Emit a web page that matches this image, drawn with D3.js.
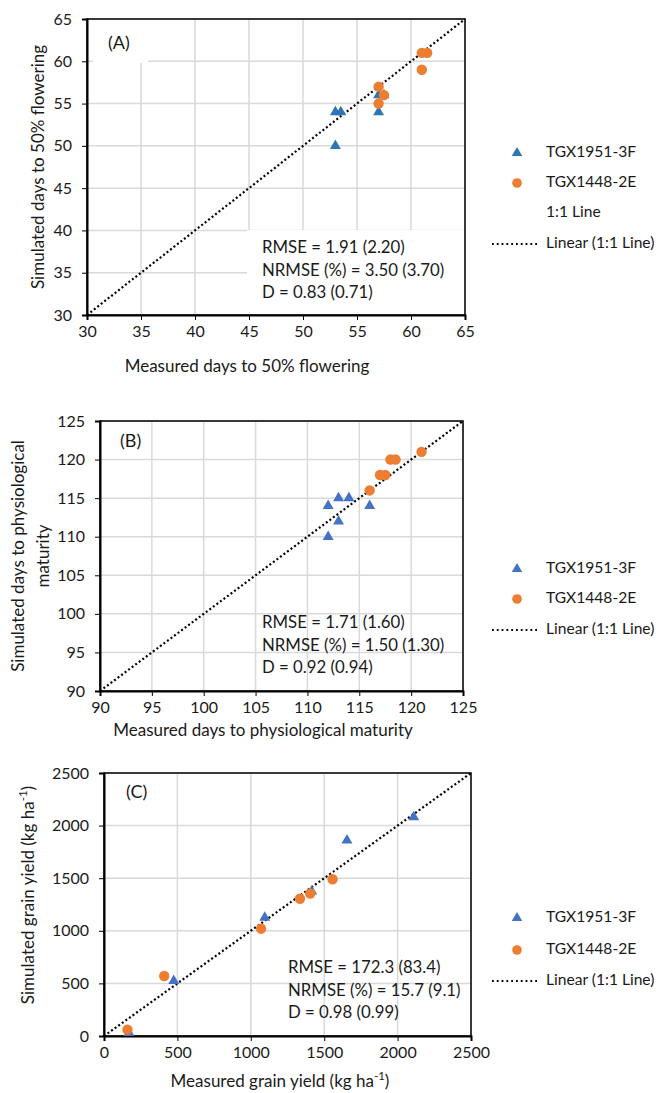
<!DOCTYPE html>
<html>
<head>
<meta charset="UTF-8" />
<title>Measured vs simulated</title>
<script src="https://d3js.org/d3.v7.min.js"></script>
<style>
  body { margin: 0; background: #fff; }
  text { font-family: Lato, "Open Sans", sans-serif; fill: #1a1a1a; }
</style>
</head>
<body>
<script type="text/javascript">

// panel A - days to 50% flowering
var flowerTGX1951 = [[53,54],[53.5,54],[53,50],[57,54],[57,56],[57.5,56]];
var flowerTGX1448 = [[57,57],[57.5,56],[57,55],[61,61],[61.5,61],[61,59]];
var flowerTicks = [30,35,40,45,50,55,60,65];
var flowerStats = ["RMSE = 1.91 (2.20)", "NRMSE (%) = 3.50 (3.70)", "D = 0.83 (0.71)"];

// panel B - days to physiological maturity
var maturTGX1951 = [[112,114],[113,115],[114,115],[113,112],[112,110],[116,114]];
var maturTGX1448 = [[116,116],[117,118],[117.5,118],[118,120],[118.5,120],[121,121]];
var maturTicks = [90,95,100,105,110,115,120,125];
var maturStats = ["RMSE = 1.71 (1.60)", "NRMSE (%) = 1.50 (1.30)", "D = 0.92 (0.94)"];

// panel C - grain yield
var yieldTGX1951 = [[2110,2080],[1655,1860],[1095,1125],[475,525],[1415,1375],[170,30]];
var yieldTGX1448 = [[410,570],[160,60],[1070,1020],[1335,1305],[1405,1355],[1557,1490]];
var yieldTicks = [0,500,1000,1500,2000,2500];
var yieldStats = ["RMSE = 172.3 (83.4)", "NRMSE (%) = 15.7 (9.1)", "D = 0.98 (0.99)"];

var width = 656, height = 1093;

var svg = d3.select("body").append("svg")
    .attr("width", width)
    .attr("height", height);

var blueA = "#2E75B6", blue = "#4472C4", orange = "#ED7D31";

function drawPanel(p) {
  var g = svg.append("g");
  var x = d3.scaleLinear().domain(d3.extent(p.ticks)).range([p.x0, p.x1]);
  var y = d3.scaleLinear().domain(d3.extent(p.ticks)).range([p.y1, p.y0]);

  // grid
  g.selectAll(".gx").data(p.ticks).enter().append("line")
    .attr("x1", d => x(d)).attr("x2", d => x(d))
    .attr("y1", p.y0).attr("y2", p.y1)
    .attr("stroke", "#d9d9d9").attr("stroke-width", 1.5);
  g.selectAll(".gy").data(p.ticks).enter().append("line")
    .attr("y1", d => y(d)).attr("y2", d => y(d))
    .attr("x1", p.x0).attr("x2", p.x1)
    .attr("stroke", "#d9d9d9").attr("stroke-width", 1.5);

  // white boxes behind text (only panel A has them)
  (p.boxes || []).forEach(function(b) {
    g.append("rect").attr("x", b[0]).attr("y", b[1]).attr("width", b[2]).attr("height", b[3]).attr("fill", "#fff");
  });

  // frame
  g.append("rect").attr("x", p.x0).attr("y", p.y0)
    .attr("width", p.x1 - p.x0).attr("height", p.y1 - p.y0)
    .attr("fill", "none").attr("stroke", "#000").attr("stroke-width", 1.5);

  // axes
  var xa = g.append("g").attr("transform", "translate(0," + p.y1 + ")")
    .call(d3.axisBottom(x).tickValues(p.ticks).tickSize(5).tickPadding(6).tickFormat(d3.format("d")));
  var ya = g.append("g").attr("transform", "translate(" + p.x0 + ",0)")
    .call(d3.axisLeft(y).tickValues(p.ticks).tickSize(5).tickPadding(p.ypad).tickFormat(d3.format("d")));
  [xa, ya].forEach(function(a) {
    a.select(".domain").attr("stroke", "#000").attr("stroke-width", 2);
    a.selectAll(".tick line").attr("stroke", "#000");
    a.selectAll(".tick text").style("font-size", "16px").attr("fill", "#1a1a1a");
  });

  // 1:1 line
  var lo = p.ticks[0], hi = p.ticks[p.ticks.length - 1];
  g.append("line")
    .attr("x1", x(lo)).attr("y1", y(lo)).attr("x2", x(hi)).attr("y2", y(hi))
    .attr("stroke", "#000").attr("stroke-width", 2.2)
    .attr("stroke-dasharray", "2,2.4");

  // points
  var tri = d3.symbol().type(d3.symbolTriangle).size(52);
  g.selectAll(".tri").data(p.s1).enter().append("path")
    .attr("d", tri)
    .attr("transform", d => "translate(" + x(d[0]) + "," + y(d[1]) + ")")
    .attr("fill", p.triColor);
  g.selectAll(".dot").data(p.s2).enter().append("circle")
    .attr("cx", d => x(d[0])).attr("cy", d => y(d[1])).attr("r", 5.2)
    .attr("fill", orange);

  // panel label
  g.append("text").attr("x", p.label[1]).attr("y", p.label[2])
    .attr("dominant-baseline", "middle").style("font-size", "18px").text(p.label[0]);

  // stats
  g.selectAll(".st").data(p.stats).enter().append("text")
    .attr("x", p.statX).attr("y", (d, i) => p.statY + i * 22.5)
    .attr("dominant-baseline", "middle").style("font-size", "16.8px")
    .text(d => d);

  // x title
  var xt = g.append("text").attr("x", p.xt[0]).attr("y", p.xt[1])
    .attr("text-anchor", "middle").attr("dominant-baseline", "middle")
    .style("font-size", "17px");
  p.xTitle(xt);

  // y title
  var yt = g.append("text")
    .attr("transform", "translate(" + p.yt[0] + "," + p.yt[1] + ") rotate(-90)")
    .attr("text-anchor", "middle").attr("dominant-baseline", "middle")
    .style("font-size", "17px");
  p.yTitle(yt);

  // legend
  var lg = svg.append("g");
  p.legend.forEach(function(it) {
    if (it.kind == "tri") {
      lg.append("path").attr("d", d3.symbol().type(d3.symbolTriangle).size(48))
        .attr("transform", "translate(517," + it.y + ")").attr("fill", p.triColor);
    } else if (it.kind == "dot") {
      lg.append("circle").attr("cx", 517).attr("cy", it.y).attr("r", 4.8).attr("fill", orange);
    } else if (it.kind == "line") {
      lg.append("line").attr("x1", 492).attr("x2", 537).attr("y1", it.y).attr("y2", it.y)
        .attr("stroke", "#000").attr("stroke-width", 1.8).attr("stroke-dasharray", "1.8,3");
    }
    lg.append("text").attr("x", 546).attr("y", it.y)
      .attr("dominant-baseline", "middle").style("font-size", "15.6px").text(it.text);
  });
}

function superTitle(base) {
  return function(t) {
    t.append("tspan").text(base + " (kg ha");
    t.append("tspan").attr("dy", -6).style("font-size", "11.5px").text("-1");
    t.append("tspan").attr("dy", 6).text(")");
  };
}

drawPanel({
  ticks: flowerTicks, s1: flowerTGX1951, s2: flowerTGX1448, stats: flowerStats,
  x0: 87, x1: 465, y0: 19, y1: 315, ypad: 10, triColor: blueA,
  boxes: [[93, 20, 55, 43], [247, 230, 217, 84]],
  label: ["(A)", 108, 44], statX: 262, statY: 249,
  xt: [247, 368], yt: [40, 167],
  xTitle: function(t) { t.text("Measured days to 50% flowering"); },
  yTitle: function(t) { t.text("Simulated days to 50% flowering"); },
  legend: [{kind: "tri", y: 153, text: "TGX1951-3F"}, {kind: "dot", y: 183, text: "TGX1448-2E"},
           {kind: "none", y: 213, text: "1:1 Line"}, {kind: "line", y: 244, text: "Linear (1:1 Line)"}]
});

drawPanel({
  ticks: maturTicks, s1: maturTGX1951, s2: maturTGX1448, stats: maturStats,
  x0: 100, x1: 463, y0: 421, y1: 691, ypad: 10, triColor: blue,
  label: ["(B)", 120, 442], statX: 262, statY: 624,
  xt: [263, 732], yt: [32, 556],
  xTitle: function(t) { t.text("Measured days to physiological maturity"); },
  yTitle: function(t) {
    t.append("tspan").attr("x", 0).attr("dy", -12.5).text("Simulated days to physiological");
    t.append("tspan").attr("x", 0).attr("dy", 25).text("maturity");
  },
  legend: [{kind: "tri", y: 569, text: "TGX1951-3F"}, {kind: "dot", y: 599, text: "TGX1448-2E"},
           {kind: "line", y: 630, text: "Linear (1:1 Line)"}]
});

drawPanel({
  ticks: yieldTicks, s1: yieldTGX1951, s2: yieldTGX1448, stats: yieldStats,
  x0: 104, x1: 471, y0: 773, y1: 1036, ypad: 10, triColor: blue,
  label: ["(C)", 126, 793], statX: 288, statY: 969,
  xt: [280, 1083], yt: [30, 895],
  xTitle: superTitle("Measured grain yield"),
  yTitle: superTitle("Simulated grain yield"),
  legend: [{kind: "tri", y: 918, text: "TGX1951-3F"}, {kind: "dot", y: 950, text: "TGX1448-2E"},
           {kind: "line", y: 981, text: "Linear (1:1 Line)"}]
});

</script>
</body>
</html>
